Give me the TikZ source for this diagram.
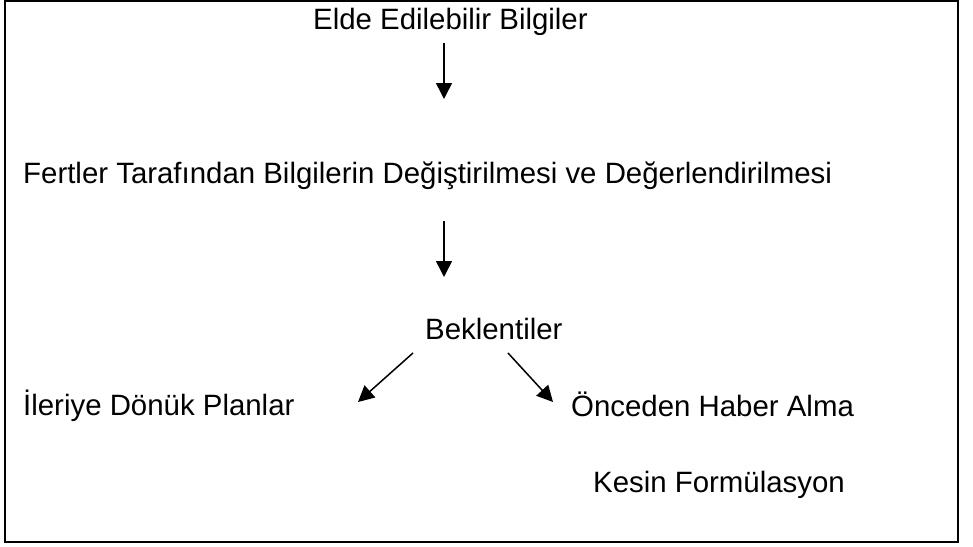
\documentclass[tikz,border=0pt]{standalone}
\usepackage{fontspec}
\setmainfont{Liberation Sans}
\usetikzlibrary{arrows.meta}

\begin{document}
\begin{tikzpicture}[x=1pt,y=-1pt,font=\fontsize{29.4}{35}\selectfont,
  lbl/.style={anchor=base west,inner sep=0pt},
  arr/.style={line width=1.5pt,-{Triangle[length=16pt,width=16pt]}}]
  \useasboundingbox (0,0) rectangle (973,546);
  \draw[line width=2pt] (5,1) rectangle (958,542);
  % text lines, placed by left edge and baseline
  \node[lbl] (elde) at (313,29) {Elde Edilebilir Bilgiler};
  \node[lbl] (fert) at (23,183) {Fertler Tarafından Bilgilerin Değiştirilmesi ve Değerlendirilmesi};
  \node[lbl] (bek) at (425,339) {Beklentiler};
  \node[lbl] (ileri) at (23,415) {İleriye Dönük Planlar};
  \node[lbl] (once) at (571,416) {Önceden Haber Alma};
  \node[lbl] (kesin) at (593,492) {Kesin Formülasyon};
  % arrow ends
  \coordinate (e1) at (444,43);  \coordinate (f1) at (444,99);
  \coordinate (e2) at (444,221); \coordinate (f2) at (444,277);
  \coordinate (bl) at (413,353); \coordinate (il) at (358,402);
  \coordinate (br) at (508,353); \coordinate (on) at (553,402);
  \draw[arr] (e1) -- (f1);
  \draw[arr] (e2) -- (f2);
  \draw[arr] (bl) -- (il);
  \draw[arr] (br) -- (on);
\end{tikzpicture}
\end{document}
